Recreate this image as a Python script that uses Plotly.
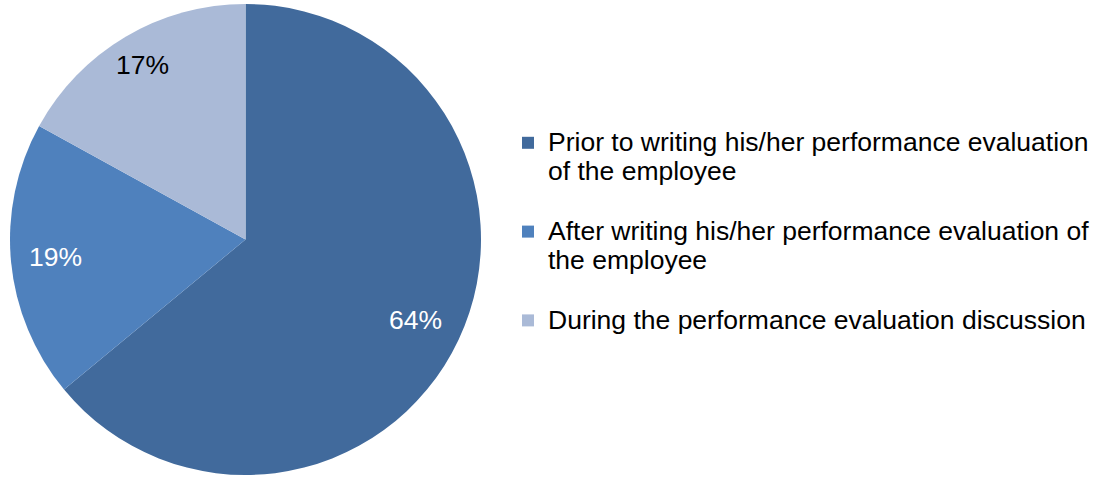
import math
import textwrap

import plotly.graph_objects as go

# Data
categories = [
    "Prior to writing his/her performance evaluation of the employee",
    "After writing his/her performance evaluation of the employee",
    "During the performance evaluation discussion",
]
shares = [64, 19, 17]

# Styling
slice_colors = ["#416A9C", "#4F81BD", "#AABAD7"]
label_colors = ["white", "white", "black"]
label_radius = [0.80, 0.81, 0.86]  # fraction of pie radius for each value label

W, H = 1097, 479
FONT = "Liberation Sans, Arial, sans-serif"
TEXT_PX = 26.5
LEGEND_LINE_FONT = 22  # sets legend line pitch (1.3 x this)
DOMAIN_X = [10 / W, 481 / W]
DOMAIN_Y = [0.0, 1.0]


def legend_label(text, width=47, lines=3):
    parts = textwrap.wrap(text, width=width)
    spans = [f"<span style='font-size:{TEXT_PX}px'>{p}</span>" for p in parts]
    spans += [" "] * (lines - len(spans))
    return "<br>".join(spans)


fig = go.Figure(
    go.Pie(
        labels=[legend_label(c) for c in categories],
        values=shares,
        sort=False,
        direction="clockwise",
        rotation=0,
        textinfo="none",
        hoverinfo="label+percent",
        marker=dict(colors=slice_colors, line=dict(width=0)),
        domain=dict(x=DOMAIN_X, y=DOMAIN_Y),
    )
)

# Value labels placed along each slice's bisector
cx = (DOMAIN_X[0] + DOMAIN_X[1]) / 2 * W
cy = (1 - (DOMAIN_Y[0] + DOMAIN_Y[1]) / 2) * H
R = min((DOMAIN_X[1] - DOMAIN_X[0]) * W, (DOMAIN_Y[1] - DOMAIN_Y[0]) * H) / 2
total = sum(shares)
cum = 0
for v, col, rf in zip(shares, label_colors, label_radius):
    theta = 2 * math.pi * (cum + v / 2) / total
    cum += v
    px = cx + rf * R * math.sin(theta)
    py = cy - rf * R * math.cos(theta)
    fig.add_annotation(
        x=px / W, y=1 - py / H, xref="paper", yref="paper",
        text=f"{round(100 * v / total)}%", showarrow=False,
        font=dict(family=FONT, size=TEXT_PX, color=col),
        xanchor="center", yanchor="middle",
    )

fig.update_layout(
    width=W, height=H,
    margin=dict(l=0, r=0, t=0, b=0),
    paper_bgcolor="white", plot_bgcolor="white",
    showlegend=True,
    legend=dict(
        x=508 / W, y=1 - 122 / H, xanchor="left", yanchor="top",
        valign="top",
        font=dict(family=FONT, size=LEGEND_LINE_FONT, color="black"),
        bgcolor="rgba(0,0,0,0)", borderwidth=0,
    ),
)

fig.write_html("out.html")
